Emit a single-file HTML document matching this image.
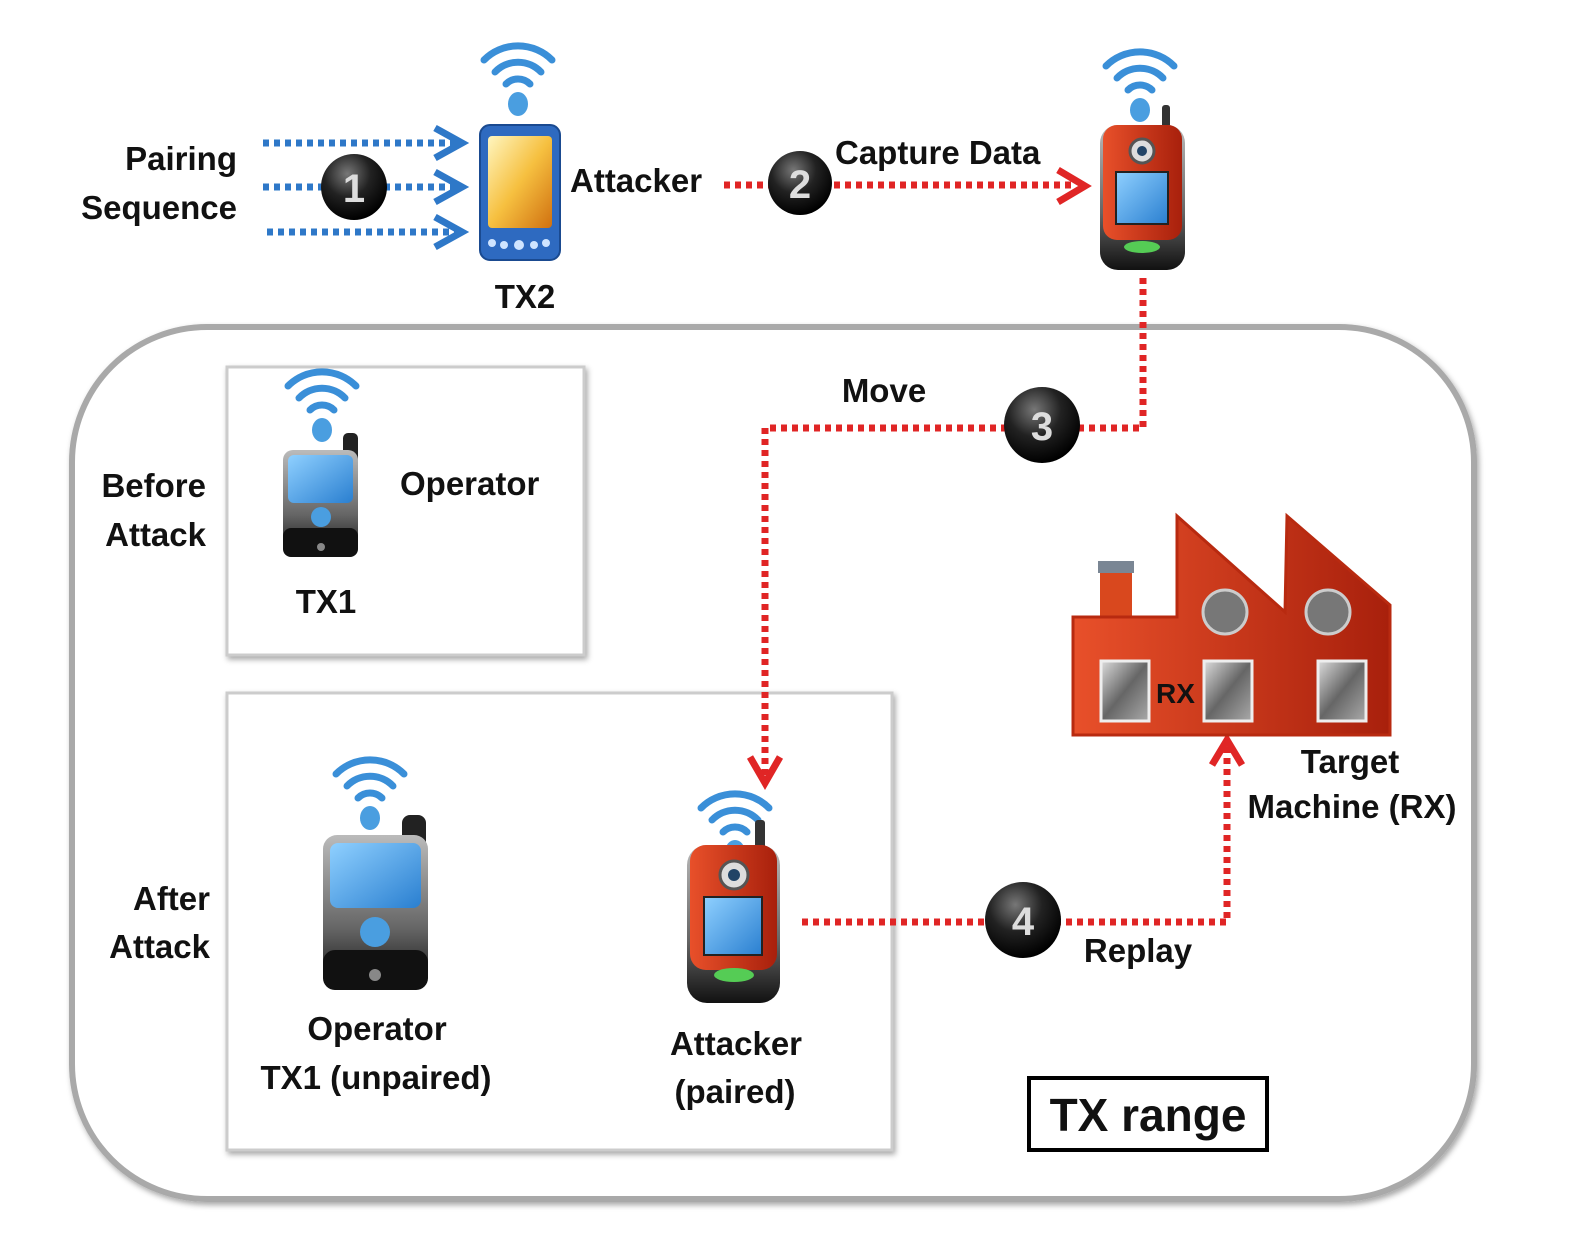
<!DOCTYPE html>
<html><head><meta charset="utf-8"><style>
html,body{margin:0;padding:0;background:#fff}
svg{display:block}
text{font-family:"Liberation Sans",sans-serif;font-weight:bold;fill:#111}
</style></head><body>
<svg width="1580" height="1254" viewBox="0 0 1580 1254" xmlns="http://www.w3.org/2000/svg">
<defs>
<radialGradient id="ball" cx="40%" cy="30%" r="70%"><stop offset="0" stop-color="#777"/><stop offset="0.5" stop-color="#222"/><stop offset="1" stop-color="#000"/></radialGradient>
<linearGradient id="scr" x1="0" y1="0" x2="1" y2="1"><stop offset="0" stop-color="#8fd0ff"/><stop offset="1" stop-color="#2a7fd0"/></linearGradient>
<linearGradient id="pda" x1="0" y1="0" x2="1" y2="1"><stop offset="0" stop-color="#fff6c0"/><stop offset="0.5" stop-color="#f6c040"/><stop offset="1" stop-color="#d07010"/></linearGradient>
<linearGradient id="red" x1="0" y1="0" x2="1" y2="0"><stop offset="0" stop-color="#e8502a"/><stop offset="1" stop-color="#a8200c"/></linearGradient>
<linearGradient id="win" x1="0" y1="0" x2="1" y2="1"><stop offset="0" stop-color="#ddd"/><stop offset="0.5" stop-color="#666"/><stop offset="1" stop-color="#aaa"/></linearGradient>
<linearGradient id="blk" x1="0" y1="0" x2="0" y2="1"><stop offset="0" stop-color="#bbb"/><stop offset="0.6" stop-color="#666"/><stop offset="1" stop-color="#111"/></linearGradient>
<g id="wifi" fill="none" stroke="#3a8fd8" stroke-width="7" stroke-linecap="round">
<path d="M-34,-22 A48,48 0 0 1 34,-22"/><path d="M-23,-10 A32,32 0 0 1 23,-10"/><path d="M-12,2 A17,17 0 0 1 12,2"/>
<ellipse cx="0" cy="22" rx="10" ry="12" fill="#4a9ee0" stroke="none"/>
</g>
<filter id="sh" x="-5%" y="-5%" width="110%" height="110%"><feDropShadow dx="2" dy="3" stdDeviation="3" flood-color="#000" flood-opacity="0.35"/></filter>
</defs>

<!-- big rounded region -->
<rect x="72" y="327" width="1402" height="872" rx="135" fill="#fff" stroke="#a9a9a9" stroke-width="6" filter="url(#sh)"/>
<rect x="227" y="367" width="357" height="288" fill="#fff" stroke="#ccc" stroke-width="3" filter="url(#sh)"/>
<rect x="227" y="693" width="665" height="457" fill="#fff" stroke="#ccc" stroke-width="3" filter="url(#sh)"/>
<rect x="1029" y="1078" width="238" height="72" fill="#fff" stroke="#000" stroke-width="4"/>
<text x="1148" y="1131" font-size="46" text-anchor="middle">TX range</text>

<!-- blue arrows -->
<g stroke="#2e78c8" stroke-width="7" stroke-dasharray="6,5" fill="none">
<line x1="263" y1="143" x2="455" y2="143"/><line x1="263" y1="187" x2="455" y2="187"/><line x1="267" y1="232" x2="455" y2="232"/>
</g>
<g stroke="#2e78c8" stroke-width="7" fill="none" stroke-linejoin="miter">
<polyline points="435,128 462,143 435,158"/><polyline points="435,172 462,187 435,202"/><polyline points="435,217 462,232 435,247"/>
</g>

<!-- red dotted paths -->
<g stroke="#e02525" stroke-width="7" stroke-dasharray="6,5" fill="none">
<line x1="724" y1="185" x2="1075" y2="185"/>
<polyline points="1143,278 1143,428 765,428 765,775"/>
<polyline points="802,922 1227,922 1227,745"/>
</g>
<g stroke="#e02525" stroke-width="7" fill="none">
<polyline points="1058,170 1085,186 1058,202"/>
<polyline points="750,757 765,783 780,757"/>
<polyline points="1212,765 1227,740 1242,765"/>
</g>

<!-- numbered balls -->
<g font-size="40" text-anchor="middle">
<circle cx="354" cy="187" r="33" fill="url(#ball)"/><text x="354" y="202" fill="#fff" style="fill:#ddd">1</text>
<circle cx="800" cy="183" r="32" fill="url(#ball)"/><text x="800" y="198" style="fill:#ddd">2</text>
<circle cx="1042" cy="425" r="38" fill="url(#ball)"/><text x="1042" y="440" style="fill:#ddd">3</text>
<circle cx="1023" cy="920" r="38" fill="url(#ball)"/><text x="1023" y="935" style="fill:#ddd">4</text>
</g>

<!-- PDA TX2 -->
<use href="#wifi" transform="translate(518,82)"/>
<rect x="480" y="125" width="80" height="135" rx="10" fill="#2e6ac0" stroke="#1a4a90" stroke-width="2"/>
<rect x="488" y="136" width="64" height="92" rx="4" fill="url(#pda)"/>
<g fill="#cfe4ff"><circle cx="492" cy="243" r="4"/><circle cx="504" cy="245" r="4"/><circle cx="519" cy="245" r="5"/><circle cx="534" cy="245" r="4"/><circle cx="546" cy="243" r="4"/></g>

<!-- Attacker phone (top) -->
<use href="#wifi" transform="translate(1140,88)"/>
<rect x="1162" y="105" width="8" height="30" rx="3" fill="#333"/>
<rect x="1100" y="125" width="85" height="145" rx="18" fill="url(#blk)"/>
<rect x="1103" y="125" width="79" height="115" rx="14" fill="url(#red)"/>
<circle cx="1142" cy="151" r="12" fill="#ddd" stroke="#555" stroke-width="3"/><circle cx="1142" cy="151" r="5" fill="#246"/>
<rect x="1116" y="172" width="52" height="52" fill="url(#scr)" stroke="#222" stroke-width="2"/>
<ellipse cx="1142" cy="247" rx="18" ry="6" fill="#5c5"/>

<!-- TX1 small -->
<use href="#wifi" transform="translate(322,408)"/>
<rect x="343" y="433" width="15" height="30" rx="5" fill="#222"/>
<rect x="283" y="450" width="75" height="107" rx="10" fill="url(#blk)"/>
<rect x="288" y="455" width="65" height="48" rx="6" fill="url(#scr)"/>
<circle cx="321" cy="517" r="10" fill="#4a9ee0"/>
<rect x="283" y="528" width="75" height="29" rx="8" fill="#111"/>
<circle cx="321" cy="547" r="4" fill="#888"/>

<!-- Operator big -->
<use href="#wifi" transform="translate(370,796)"/>
<rect x="402" y="815" width="24" height="40" rx="8" fill="#222"/>
<rect x="323" y="835" width="105" height="155" rx="14" fill="url(#blk)"/>
<rect x="330" y="843" width="91" height="65" rx="8" fill="url(#scr)"/>
<circle cx="375" cy="932" r="15" fill="#4a9ee0"/>
<rect x="323" y="950" width="105" height="40" rx="12" fill="#111"/>
<circle cx="375" cy="975" r="6" fill="#888"/>

<!-- Attacker paired -->
<use href="#wifi" transform="translate(735,830)"/>
<rect x="755" y="820" width="10" height="35" rx="3" fill="#333"/>
<rect x="687" y="845" width="93" height="158" rx="20" fill="url(#blk)"/>
<rect x="690" y="845" width="87" height="125" rx="16" fill="url(#red)"/>
<circle cx="734" cy="875" r="14" fill="#ddd" stroke="#555" stroke-width="3"/><circle cx="734" cy="875" r="6" fill="#246"/>
<rect x="704" y="897" width="58" height="58" fill="url(#scr)" stroke="#222" stroke-width="2"/>
<ellipse cx="734" cy="975" rx="20" ry="7" fill="#5c5"/>

<!-- factory -->
<rect x="1100" y="565" width="32" height="55" fill="#d9481e"/>
<rect x="1098" y="561" width="36" height="12" fill="#7a8694"/>
<path d="M1073,617 L1177,617 L1177,516 L1285,612 L1287,516 L1390,605 L1390,735 L1073,735 Z" fill="url(#red)" stroke="#b82a10" stroke-width="3"/>
<circle cx="1225" cy="612" r="22" fill="#777" stroke="#ccc" stroke-width="3"/>
<circle cx="1328" cy="612" r="22" fill="#777" stroke="#ccc" stroke-width="3"/>
<rect x="1101" y="661" width="48" height="60" fill="url(#win)" stroke="#eee" stroke-width="3"/>
<rect x="1204" y="661" width="48" height="60" fill="url(#win)" stroke="#eee" stroke-width="3"/>
<rect x="1318" y="661" width="48" height="60" fill="url(#win)" stroke="#eee" stroke-width="3"/>
<text x="1156" y="703" font-size="28">RX</text>

<!-- labels -->
<g font-size="33">
<text x="237" y="170" text-anchor="end">Pairing</text>
<text x="237" y="219" text-anchor="end">Sequence</text>
<text x="570" y="192">Attacker</text>
<text x="525" y="308" text-anchor="middle">TX2</text>
<text x="835" y="164">Capture Data</text>
<text x="884" y="402" text-anchor="middle">Move</text>
<text x="206" y="497" text-anchor="end">Before</text>
<text x="206" y="546" text-anchor="end">Attack</text>
<text x="400" y="495">Operator</text>
<text x="326" y="613" text-anchor="middle">TX1</text>
<text x="1350" y="773" text-anchor="middle">Target</text>
<text x="1352" y="818" text-anchor="middle">Machine (RX)</text>
<text x="210" y="910" text-anchor="end">After</text>
<text x="210" y="958" text-anchor="end">Attack</text>
<text x="1138" y="962" text-anchor="middle">Replay</text>
<text x="377" y="1040" text-anchor="middle">Operator</text>
<text x="376" y="1089" text-anchor="middle">TX1 (unpaired)</text>
<text x="736" y="1055" text-anchor="middle">Attacker</text>
<text x="735" y="1103" text-anchor="middle">(paired)</text>
</g>
</svg>
</body></html>
